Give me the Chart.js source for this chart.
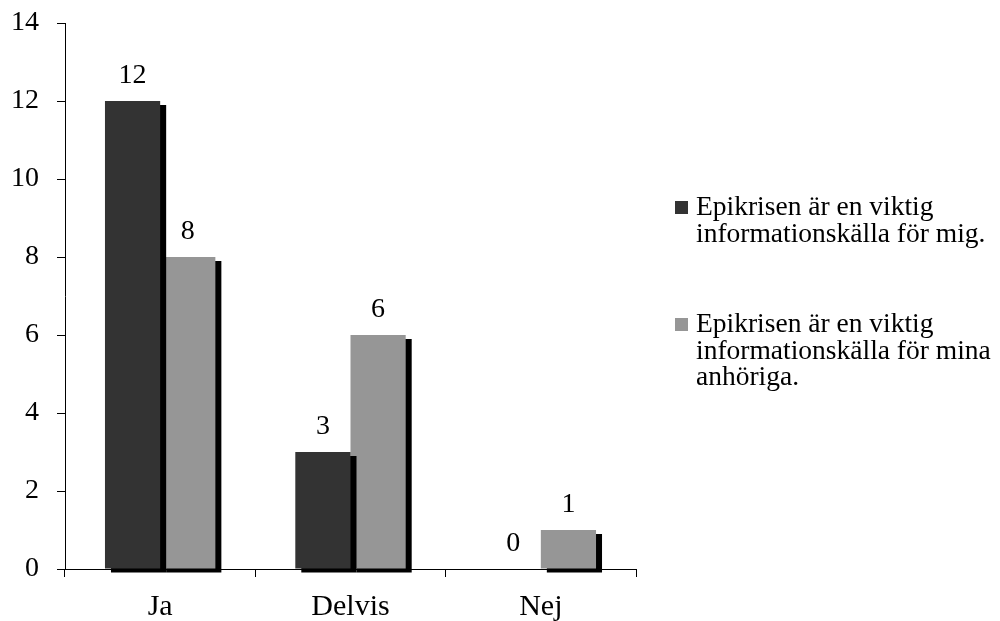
<!DOCTYPE html>
<html>
<head>
  <meta charset="utf-8">
  <script src="https://cdn.jsdelivr.net/npm/chart.js"></script>
  <style>
    body { margin: 0; background: #fff; }
    canvas { display: block; }
  </style>
</head>
<body>
  <canvas id="chart" width="1000" height="621"></canvas>

  <script>
    // data
    const categories = ['Ja', 'Delvis', 'Nej']
    const migValues = [12, 3, 0]
    const anhorigaValues = [8, 6, 1]
    const yTicks = [0, 2, 4, 6, 8, 10, 12, 14]
    const seriesLabels = [
      ['Epikrisen är en viktig', 'informationskälla för mig.'],
      ['Epikrisen är en viktig', 'informationskälla för mina', 'anhöriga.']
    ]
    const seriesColors = ['#333333', '#969696']

    const FONT = '"Liberation Serif", "Times New Roman", serif'
    Chart.defaults.font.family = FONT
    Chart.defaults.font.size = 28
    Chart.defaults.color = '#000'

    // hard black drop shadow behind each bar
    const barShadow = {
      id: 'barShadow',
      beforeDatasetDraw(chart) {
        const ctx = chart.ctx
        ctx.save()
        ctx.shadowColor = '#000'
        ctx.shadowBlur = 0
        ctx.shadowOffsetX = 6
        ctx.shadowOffsetY = 4
      },
      afterDatasetDraw(chart) {
        chart.ctx.restore()
      }
    }

    // value labels above bars
    const valueLabels = {
      id: 'valueLabels',
      afterDatasetsDraw(chart) {
        const ctx = chart.ctx
        ctx.save()
        ctx.font = '28px ' + FONT
        ctx.fillStyle = '#000'
        ctx.textAlign = 'center'
        ctx.textBaseline = 'alphabetic'
        chart.data.datasets.forEach((ds, i) => {
          chart.getDatasetMeta(i).data.forEach((bar, j) => {
            ctx.fillText(String(ds.data[j]), bar.x, bar.y - 18)
          })
        })
        ctx.restore()
      }
    }

    // legend on the right with wrapped lines
    const sideLegend = {
      id: 'sideLegend',
      afterDraw(chart) {
        const ctx = chart.ctx
        ctx.save()
        ctx.font = '27.5px ' + FONT
        ctx.textAlign = 'left'
        ctx.textBaseline = 'alphabetic'
        const firstBaselines = [215, 332]
        seriesLabels.forEach((lines, i) => {
          const base = firstBaselines[i]
          ctx.fillStyle = seriesColors[i]
          ctx.fillRect(675, base - 14, 13, 13)
          ctx.fillStyle = '#000'
          lines.forEach((line, k) => {
            ctx.fillText(line, 696, base + k * 26.5)
          })
        })
        ctx.restore()
      }
    }

    new Chart(document.getElementById('chart'), {
      type: 'bar',
      data: {
        labels: categories,
        datasets: [
          {
            label: seriesLabels[0].join(' '),
            data: migValues,
            backgroundColor: seriesColors[0],
            borderWidth: 0,
            clip: false
          },
          {
            label: seriesLabels[1].join(' '),
            data: anhorigaValues,
            backgroundColor: seriesColors[1],
            borderWidth: 0,
            clip: false
          }
        ]
      },
      options: {
        responsive: false,
        animation: false,
        layout: { padding: { left: 0, right: 364, top: 23, bottom: 0 } },
        datasets: {
          bar: { barPercentage: 1, categoryPercentage: 0.58 }
        },
        plugins: {
          legend: { display: false },
          tooltip: { enabled: false }
        },
        scales: {
          x: {
            grid: {
              offset: true,
              drawOnChartArea: false,
              drawTicks: true,
              tickLength: 8,
              color: '#000'
            },
            border: { color: '#000', width: 1 },
            ticks: { padding: 12, font: { size: 30 } },
            afterFit(scale) {
              scale.height = 52
              scale.paddingLeft = 0
              scale.paddingRight = 0
            }
          },
          y: {
            min: 0,
            max: 14,
            afterBuildTicks(scale) {
              scale.ticks = yTicks.map(v => ({ value: v }))
            },
            grid: {
              drawOnChartArea: false,
              drawTicks: true,
              tickLength: 8,
              color: '#000'
            },
            border: { color: '#000', width: 1 },
            ticks: { padding: 18, font: { size: 28 } },
            afterFit(scale) {
              scale.width = 65
              scale.paddingTop = 0
              scale.paddingBottom = 0
            }
          }
        }
      },
      plugins: [barShadow, valueLabels, sideLegend]
    })
  </script>
</body>
</html>
